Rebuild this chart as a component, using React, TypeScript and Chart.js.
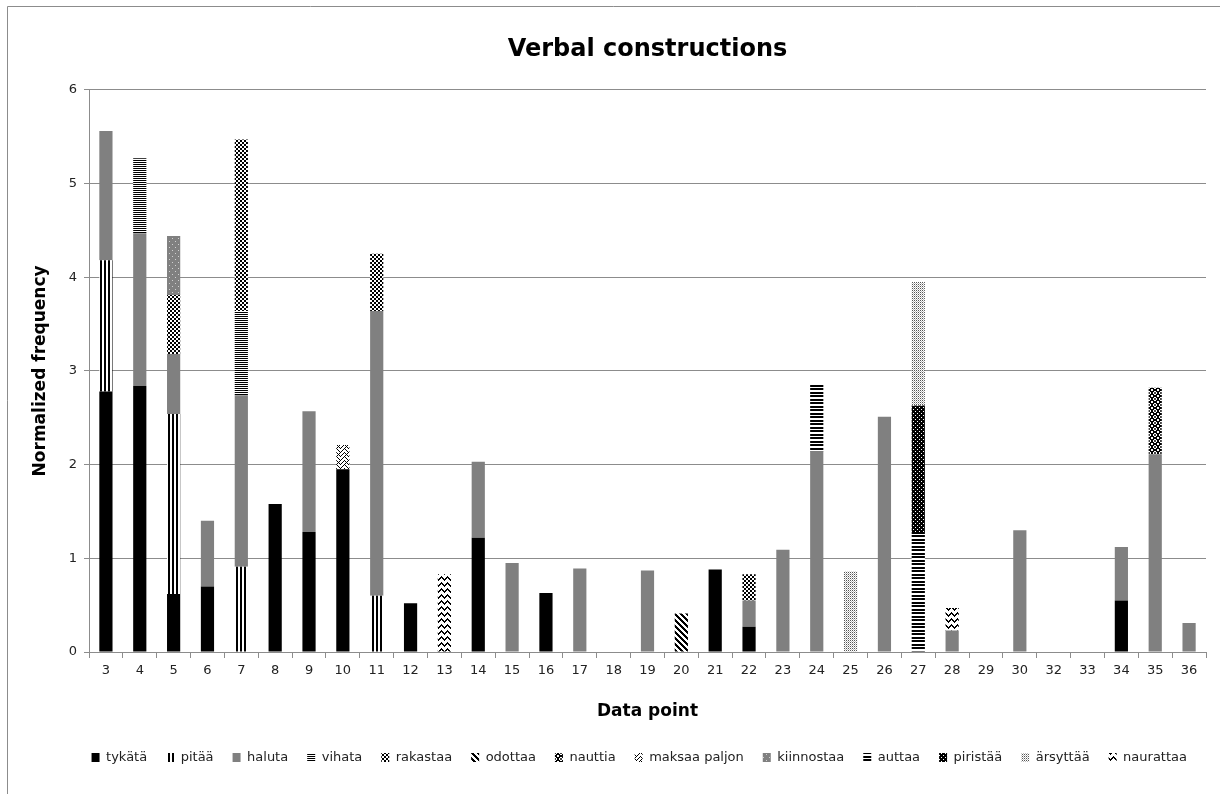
import React, { useEffect, useRef } from "react";
import { Chart, registerables } from "chart.js";
Chart.register(...registerables);

const categories = ["3","4","5","6","7","8","9","10","11","12","13","14","15","16","17","18","19","20","21","22","23","24","25","26","27","28","29","30","32","33","34","35","36"];

const n = null;
const tykata =    [2.78,2.84,0.62,0.70,n,1.58,1.28,1.95,n,0.52,n,1.22,n,0.63,n,n,n,n,0.88,0.27,n,n,n,n,n,n,n,n,n,n,0.55,n,n];
const pitaa =     [1.40,n,1.92,n,0.91,n,n,n,0.60,n,n,n,n,n,n,n,n,n,n,n,n,n,n,n,n,n,n,n,n,n,n,n,n];
const haluta =    [1.38,1.63,0.64,0.70,1.83,n,1.29,n,3.04,n,n,0.81,0.95,n,0.89,n,0.87,n,n,0.28,1.09,2.14,n,2.51,n,0.23,n,1.30,n,n,0.57,2.11,0.31];
const vihata =    [n,0.80,n,n,0.90,n,n,n,n,n,n,n,n,n,n,n,n,n,n,n,n,n,n,n,n,n,n,n,n,n,n,n,n];
const rakastaa =  [n,n,0.63,n,1.83,n,n,n,0.61,n,n,n,n,n,n,n,n,n,n,0.28,n,n,n,n,n,n,n,n,n,n,n,n,n];
const odottaa =   [n,n,n,n,n,n,n,n,n,n,n,n,n,n,n,n,n,0.41,n,n,n,n,n,n,n,n,n,n,n,n,n,n,n];
const nauttia =   [n,n,n,n,n,n,n,n,n,n,n,n,n,n,n,n,n,n,n,n,n,n,n,n,n,n,n,n,n,n,n,0.71,n];
const maksaa =    [n,n,n,n,n,n,n,0.26,n,n,n,n,n,n,n,n,n,n,n,n,n,n,n,n,n,n,n,n,n,n,n,n,n];
const kiinnostaa = [n,n,0.63,n,n,n,n,n,n,n,n,n,n,n,n,n,n,n,n,n,n,n,n,n,n,n,n,n,n,n,n,n,n];
const auttaa =    [n,n,n,n,n,n,n,n,n,n,n,n,n,n,n,n,n,n,n,n,n,0.72,n,n,1.28,n,n,n,n,n,n,n,n];
const piristaa =  [n,n,n,n,n,n,n,n,n,n,n,n,n,n,n,n,n,n,n,n,n,n,n,n,1.35,n,n,n,n,n,n,n,n];
const arsyttaa =  [n,n,n,n,n,n,n,n,n,n,n,n,n,n,n,n,n,n,n,n,n,n,0.86,n,1.32,n,n,n,n,n,n,n,n];
const naurattaa = [n,n,n,n,n,n,n,n,n,n,0.83,n,n,n,n,n,n,n,n,n,n,n,n,n,n,0.24,n,n,n,n,n,n,n];

const seriesNames = ["tykätä","pitää","haluta","vihata","rakastaa","odottaa","nauttia","maksaa paljon","kiinnostaa","auttaa","piristää","ärsyttää","naurattaa"];
const yTicks = [0,1,2,3,4,5,6];

const FONT = "'DejaVu Sans', sans-serif";

function px(w: number, h: number, fn: (x: number, y: number) => string | null, bg: string) {
  const c = document.createElement("canvas");
  c.width = w; c.height = h;
  const ctx = c.getContext("2d")!;
  ctx.fillStyle = bg;
  ctx.fillRect(0, 0, w, h);
  for (let y = 0; y < h; y++) for (let x = 0; x < w; x++) {
    const col = fn(x, y);
    if (col) { ctx.fillStyle = col; ctx.fillRect(x, y, 1, 1); }
  }
  return ctx.createPattern(c, "repeat")!;
}

function makeFills() {
  const B = "#000", W = "#fff";
  return [
    "#000000",
    px(4, 1, (x) => (x < 2 ? B : null), W),
    "#808080",
    px(1, 2, (_x, y) => (y === 0 ? B : null), W),
    px(4, 4, (x, y) => ((Math.floor(x / 2) + Math.floor(y / 2)) % 2 === 0 ? B : null), W),
    px(6, 6, (x, y) => ((x - y + 6) % 6 < 3 ? B : null), W),
    px(6, 6, (x, y) => {
      const dx = x - 2.5, dy = y - 2.5; const d = Math.sqrt(dx * dx + dy * dy);
      if (d > 1.6 && d < 3.2) return B;
      if (d <= 1.0) return "#444";
      return null;
    }, W),
    px(8, 8, (x, y) => ((y + Math.abs(x - 4)) % 4 === 0 || (y + x) % 8 === 0 ? B : null), W),
    px(6, 6, (x, y) => ((x === 1 && y === 1) || (x === 4 && y === 4) ? "#d0d0d0" : null), "#808080"),
    px(1, 7, (_x, y) => (y === 0 || y === 1 || y === 3 || y === 4 ? B : null), W),
    px(4, 4, (x, y) => ((x === 1 && y === 1) || (x === 3 && y === 3) ? W : null), B),
    px(2, 2, (x, y) => (x === 0 && y === 0 ? "#555" : x === 1 && y === 1 ? "#bbb" : null), W),
    px(6, 6, (x, y) => (((y - Math.abs(x - 3)) % 6 + 6) % 6 === 0 || ((y - Math.abs(x - 3)) % 6 + 6) % 6 === 1 ? B : null), W),
  ];
}

export default function App() {
  const ref = useRef<HTMLCanvasElement | null>(null);
  useEffect(() => {
    if (!ref.current) return;
    const fills = makeFills();
    const dataArrays = [tykata, pitaa, haluta, vihata, rakastaa, odottaa, nauttia, maksaa, kiinnostaa, auttaa, piristaa, arsyttaa, naurattaa];
    const datasets = dataArrays.map((d, i) => ({
      label: seriesNames[i],
      data: d,
      backgroundColor: fills[i] as any,
      borderWidth: 0,
      barPercentage: 0.39,
      categoryPercentage: 1.0,
      stack: "s",
    }));

    const frame = {
      id: "frame",
      beforeDraw(chart: any) {
        const ctx = chart.ctx;
        ctx.save();
        ctx.fillStyle = "#fff";
        ctx.fillRect(0, 0, chart.width, chart.height);
        ctx.strokeStyle = "#8c8c8c";
        ctx.lineWidth = 1;
        ctx.beginPath();
        ctx.moveTo(7.5, chart.height);
        ctx.lineTo(7.5, 6.5);
        ctx.lineTo(chart.width, 6.5);
        ctx.stroke();
        ctx.restore();
      },
    };

    const chart = new Chart(ref.current, {
      type: "bar",
      data: { labels: categories, datasets },
      plugins: [frame],
      options: {
        animation: false,
        responsive: false,
        maintainAspectRatio: false,
        layout: { padding: { left: 24, right: 14, top: 0, bottom: 20 } },
        font: { family: FONT },
        plugins: {
          title: {
            display: true,
            text: "Verbal constructions",
            fullSize: false,
            color: "#000",
            font: { family: FONT, size: 24, weight: "bold" },
            padding: { top: 35, bottom: 26 },
          },
          legend: {
            display: true,
            position: "bottom",
            fullSize: true,
            align: "end",
            labels: {
              boxWidth: 8,
              boxHeight: 9,
              padding: 19,
              color: "#222",
              font: { family: FONT, size: 13 },
            },
          },
          tooltip: { enabled: false },
        },
        scales: {
          x: {
            stacked: true,
            grid: { display: true, drawOnChartArea: false, drawTicks: true, tickLength: 6, color: "#8c8c8c", offset: true },
            border: { display: true, color: "#8c8c8c", width: 1 },
            ticks: { color: "#222", font: { family: FONT, size: 13 }, autoSkip: false, maxRotation: 0, padding: 5 },
            title: { display: true, text: "Data point", color: "#000", font: { family: FONT, size: 17, weight: "bold" }, padding: { top: 0, bottom: 10 } },
            afterFit: (s: any) => { s.height = 80; },
          },
          y: {
            stacked: true,
            min: 0,
            max: 6,
            afterBuildTicks: (s: any) => { s.ticks = yTicks.map((v) => ({ value: v })); },
            grid: { color: "#8c8c8c", tickLength: 5, drawTicks: true },
            border: { display: true, color: "#8c8c8c", width: 1 },
            ticks: { color: "#222", font: { family: FONT, size: 13 }, padding: 7 },
            title: { display: true, text: "Normalized frequency", color: "#000", font: { family: FONT, size: 17, weight: "bold" }, padding: { top: 6, bottom: 0 } },
            afterFit: (s: any) => { s.width = 65; },
          },
        },
      } as any,
    });
    return () => chart.destroy();
  }, []);

  return (
    <div style={{ position: "absolute", left: 0, top: 0, width: 1220, height: 794 }}>
      <canvas ref={ref} width={1220} height={794} />
    </div>
  );
}
